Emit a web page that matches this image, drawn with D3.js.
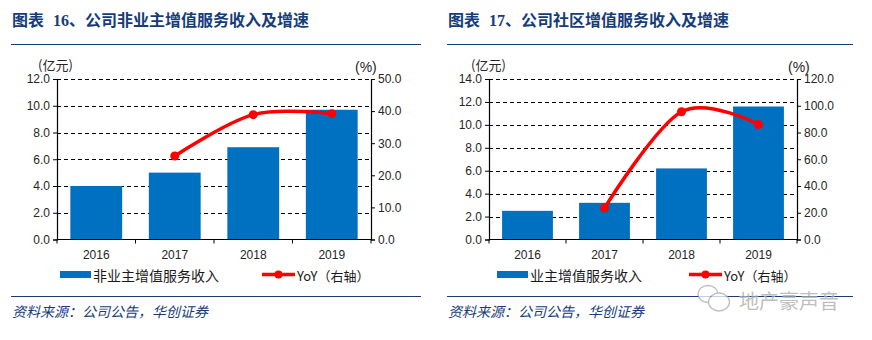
<!DOCTYPE html>
<html lang="zh-CN">
<head>
<meta charset="UTF-8">
<title>公司增值服务收入及增速</title>
<script src="https://cdn.jsdelivr.net/npm/d3@7"></script>
<style>
  html, body { margin: 0; padding: 0; background: #fff; }
  svg { display: block; }
  .tick-label { font-family: "Liberation Sans", Arial, sans-serif; font-size: 12px; fill: #262626; }
  .cjk { font-family: "Noto Sans CJK SC", sans-serif; }
</style>
</head>
<body>
<svg id="fig" width="872" height="340"></svg>
<script>
// 数据
const years = ["2016", "2017", "2018", "2019"];

const nonOwnerRevenue = [4.0, 5.0, 6.9, 9.7];          // 亿元
const nonOwnerYoY = [null, 26.0, 38.9, 39.2];          // %
const nonOwnerLeftTicks = [0, 2, 4, 6, 8, 10, 12];
const nonOwnerRightTicks = [0, 10, 20, 30, 40, 50];

const communityRevenue = [2.5, 3.2, 6.2, 11.6];
const communityYoY = [null, 23.5, 95.5, 86.0];
const communityLeftTicks = [0, 2, 4, 6, 8, 10, 12, 14];
const communityRightTicks = [0, 20, 40, 60, 80, 100, 120];

const BLUE = "#0070C0", RED = "#FF0000", NAVY = "#163D78";

const svg = d3.select("#fig");

function drawPanel(opt) {
  const g = svg.append("g").attr("transform", `translate(${opt.ox},0)`);

  // 标题 + 分隔线
  const t = g.append("text")
    .attr("class", "cjk")
    .attr("x", 12).attr("y", 26)
    .attr("font-size", 16).attr("font-weight", 700)
    .attr("fill", NAVY);
  t.append("tspan").text("图表");
  t.append("tspan").attr("dx", 9).attr("font-family", "'Liberation Serif', serif").text(opt.num);
  t.append("tspan").text("、" + opt.title);
  g.append("line").attr("x1", 11).attr("x2", opt.lineEnd)
    .attr("y1", 44.5).attr("y2", 44.5)
    .attr("stroke", NAVY).attr("stroke-width", 1.2);

  const left = opt.left, right = opt.right, top = 79, bottom = 239.5;

  const x = d3.scaleBand().domain(years).range([left, right]).paddingInner(0.34).paddingOuter(0.17);
  const xc = d3.scaleBand().domain(years).range([left, right]);
  const yL = d3.scaleLinear().domain([0, d3.max(opt.leftTicks)]).range([bottom, top]);
  const yR = d3.scaleLinear().domain([0, d3.max(opt.rightTicks)]).range([bottom, top]);

  // 网格线
  g.append("g").selectAll("line")
    .data(opt.leftTicks.filter(d => d > 0))
    .join("line")
    .attr("x1", left).attr("x2", right)
    .attr("y1", d => Math.round(yL(d)) + 0.5).attr("y2", d => Math.round(yL(d)) + 0.5)
    .attr("stroke", "#000").attr("stroke-width", 1)
    .attr("stroke-dasharray", "4,3");

  // 柱
  g.append("g").selectAll("rect")
    .data(opt.revenue)
    .join("rect")
    .attr("x", (d, i) => x(years[i]))
    .attr("width", x.bandwidth())
    .attr("y", d => yL(d))
    .attr("height", d => bottom - yL(d))
    .attr("fill", BLUE);

  // 左轴
  const axL = d3.axisLeft(yL).tickValues(opt.leftTicks).tickSize(4).tickPadding(3)
    .tickFormat(d3.format(".1f"));
  const gL = g.append("g").attr("transform", `translate(${left},0)`).call(axL);
  // 右轴
  const axR = d3.axisRight(yR).tickValues(opt.rightTicks).tickSize(4).tickPadding(3)
    .tickFormat(d3.format(".1f"));
  const gR = g.append("g").attr("transform", `translate(${right},0)`).call(axR);
  // 下轴
  const gB = g.append("g").attr("transform", `translate(0,${bottom})`)
    .call(d3.axisBottom(xc).tickSize(0).tickPadding(11));
  g.append("g").selectAll("line")
    .data(years.concat(["end"]))
    .join("line")
    .attr("x1", (d, i) => left + i * xc.step()).attr("x2", (d, i) => left + i * xc.step())
    .attr("y1", bottom).attr("y2", bottom + 4)
    .attr("stroke", "#000");

  [gL, gR, gB].forEach(a => {
    a.select(".domain").attr("stroke", "#000").attr("stroke-width", 1.2);
    a.selectAll(".tick line").attr("stroke", "#000");
    a.selectAll("text").attr("class", "tick-label").attr("font-size", null).attr("font-family", null);
  });
  gB.select(".domain").attr("d", `M${left},0H${right}`);

  // 单位
  g.append("text").attr("class", "cjk").attr("x", opt.unitL).attr("y", 70)
    .attr("font-size", 13).attr("fill", "#262626").text("(亿元)");
  g.append("text").attr("class", "tick-label").attr("x", right + opt.unitR).attr("y", 72)
    .style("font-size", "14px").text("(%)");

  // YoY 曲线
  const pts = opt.yoy.map((v, i) => ({ k: years[i], v })).filter(d => d.v != null);
  const line = d3.line()
    .x(d => xc(d.k) + xc.bandwidth() / 2)
    .y(d => yR(d.v))
    .curve(d3.curveCatmullRom.alpha(0));
  g.append("path").datum(pts)
    .attr("d", line).attr("fill", "none")
    .attr("stroke", RED).attr("stroke-width", 3.5).attr("stroke-linecap", "round");
  g.append("g").selectAll("circle").data(pts).join("circle")
    .attr("cx", d => xc(d.k) + xc.bandwidth() / 2)
    .attr("cy", d => yR(d.v))
    .attr("r", 4.5).attr("fill", RED);

  // 图例
  const lg = g.append("g").attr("transform", "translate(0,276)");
  lg.append("rect").attr("x", opt.legBar).attr("y", -5).attr("width", 31).attr("height", 7).attr("fill", BLUE);
  lg.append("text").attr("class", "cjk").attr("x", opt.legBar + 33).attr("y", 5)
    .attr("font-size", 14).attr("fill", "#1a1a1a").text(opt.legendName);
  lg.append("line").attr("x1", opt.legLine).attr("x2", opt.legLine + 33)
    .attr("y1", -1.5).attr("y2", -1.5).attr("stroke", RED).attr("stroke-width", 3.5);
  lg.append("circle").attr("cx", opt.legLine + 16.5).attr("cy", -1.5).attr("r", 4).attr("fill", RED);
  lg.append("text").attr("class", "cjk").attr("x", opt.legLine + 35).attr("y", 5)
    .attr("font-size", 13).attr("fill", "#1a1a1a").text("YoY（右轴）");

  // 底部线 + 来源
  g.append("line").attr("x1", 11).attr("x2", opt.lineEnd)
    .attr("y1", 296.5).attr("y2", 296.5)
    .attr("stroke", NAVY).attr("stroke-width", 1.2);
  g.append("text").attr("class", "cjk").attr("x", 12).attr("y", 317)
    .attr("font-size", 14).attr("font-style", "italic").attr("fill", NAVY)
    .text("资料来源：公司公告，华创证券");
}

drawPanel({
  ox: 0, num: "16", title: "公司非业主增值服务收入及增速", lineEnd: 421,
  left: 57, right: 371, unitL: 38, unitR: -16,
  revenue: nonOwnerRevenue, yoy: nonOwnerYoY,
  leftTicks: nonOwnerLeftTicks, rightTicks: nonOwnerRightTicks,
  legendName: "非业主增值服务收入", legBar: 60, legLine: 262
});

drawPanel({
  ox: 436, num: "17", title: "公司社区增值服务收入及增速", lineEnd: 417,
  left: 53, right: 361, unitL: 35, unitR: -9,
  revenue: communityRevenue, yoy: communityYoY,
  leftTicks: communityLeftTicks, rightTicks: communityRightTicks,
  legendName: "业主增值服务收入", legBar: 61, legLine: 253
});

// 水印
const wm = svg.append("g").attr("opacity", 0.75);
wm.append("ellipse").attr("cx", 708).attr("cy", 294).attr("rx", 10).attr("ry", 8.5)
  .attr("fill", "#fff").attr("stroke", "#aaa").attr("stroke-width", 1.3);
wm.append("ellipse").attr("cx", 719).attr("cy", 302).attr("rx", 10.5).attr("ry", 9)
  .attr("fill", "#fff").attr("stroke", "#aaa").attr("stroke-width", 1.3);
wm.append("text").attr("class", "cjk").attr("x", 739).attr("y", 309)
  .attr("font-size", 20).attr("fill", "#aaa")
  .attr("stroke", "#fff").attr("stroke-width", 0.6).attr("paint-order", "stroke")
  .text("地产豪声音");
</script>
</body>
</html>
